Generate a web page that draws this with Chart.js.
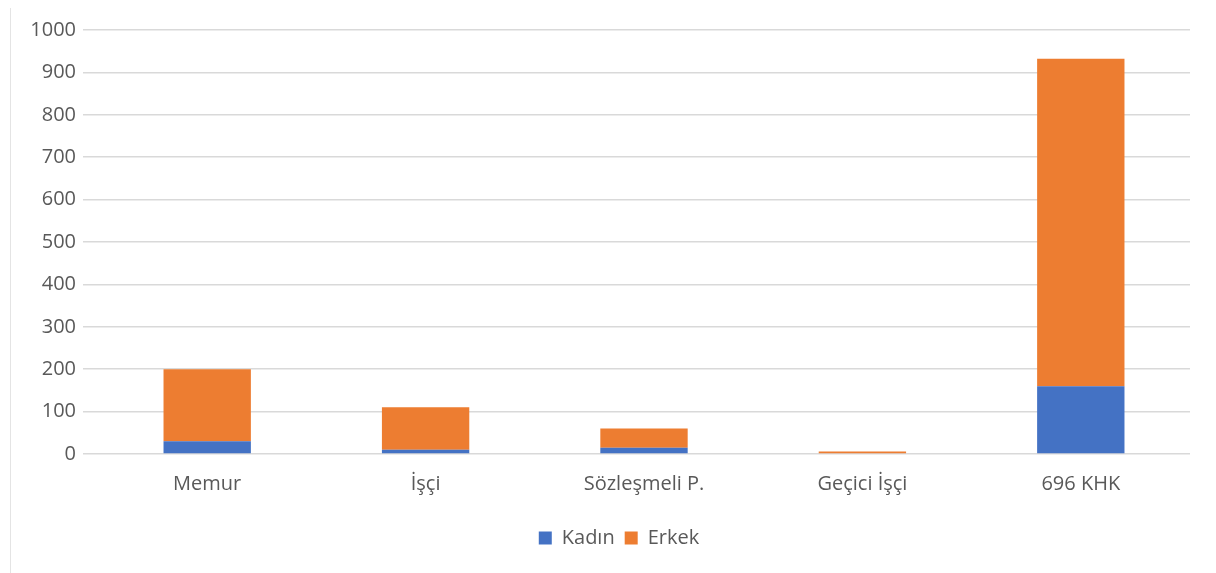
<!DOCTYPE html>
<html>
<head>
<meta charset="utf-8">
<script src="https://cdn.jsdelivr.net/npm/chart.js@4"></script>
<style>
    html, body { margin: 0; padding: 0; background: #fff; }
    #wrap { position: relative; width: 1216px; height: 573px; }
    #wrap::before { content: ''; position: absolute; left: 10px; top: 8px; bottom: 0; border-left: 1px solid #e4e4e4; }
</style>
</head>
<body>
<div id="wrap"><canvas id="chart" width="1216" height="573"></canvas></div>
<script>
const categories = ['Memur', 'İşçi', 'Sözleşmeli P.', 'Geçici İşçi', '696 KHK'];
const kadin = [30, 10, 15, 0, 160];
const erkek = [170, 100, 45, 6, 772];
const yTicks = [0, 100, 200, 300, 400, 500, 600, 700, 800, 900, 1000];

const font = { family: '"Open Sans", "Noto Sans", sans-serif', size: 20 };

// nudge the legend so it sits where the original one does
const legendShift = {
    id: 'legendShift',
    afterLayout(chart) {
        const lg = chart.legend;
        if (lg) { lg.left += 24; lg.right += 24; }
    }
};

const ctx = document.getElementById('chart').getContext('2d');

new Chart(ctx, {
    type: 'bar',
    data: {
        labels: categories,
        datasets: [
            { label: 'Kadın', data: kadin, backgroundColor: '#4472C4' },
            { label: 'Erkek', data: erkek, backgroundColor: '#ED7D31' }
        ]
    },
    options: {
        responsive: false,
        animation: false,
        categoryPercentage: 1,
        barPercentage: 0.4,
        layout: { padding: { top: 30, right: 26, bottom: 15, left: 0 } },
        plugins: {
            legend: {
                position: 'bottom',
                labels: { boxWidth: 13, boxHeight: 13, padding: 10, color: '#595959', font: font }
            },
            tooltip: { enabled: false }
        },
        scales: {
            x: {
                stacked: true,
                grid: { display: false, drawTicks: false },
                border: { display: false },
                ticks: { color: '#595959', font: font, padding: 18 },
                afterFit: scale => { scale.height = 64; }
            },
            y: {
                stacked: true,
                min: 0,
                max: 1000,
                afterBuildTicks: scale => { scale.ticks = yTicks.map(v => ({ value: v })); },
                grid: { color: '#d9d9d9', lineWidth: 1.5, drawTicks: true, tickLength: 15, tickColor: '#d9d9d9' },
                border: { display: false },
                ticks: { color: '#595959', font: font, padding: 7, callback: v => String(v) },
                afterFit: scale => { scale.width = 98; }
            }
        }
    },
    plugins: [legendShift]
});
</script>
</body>
</html>
